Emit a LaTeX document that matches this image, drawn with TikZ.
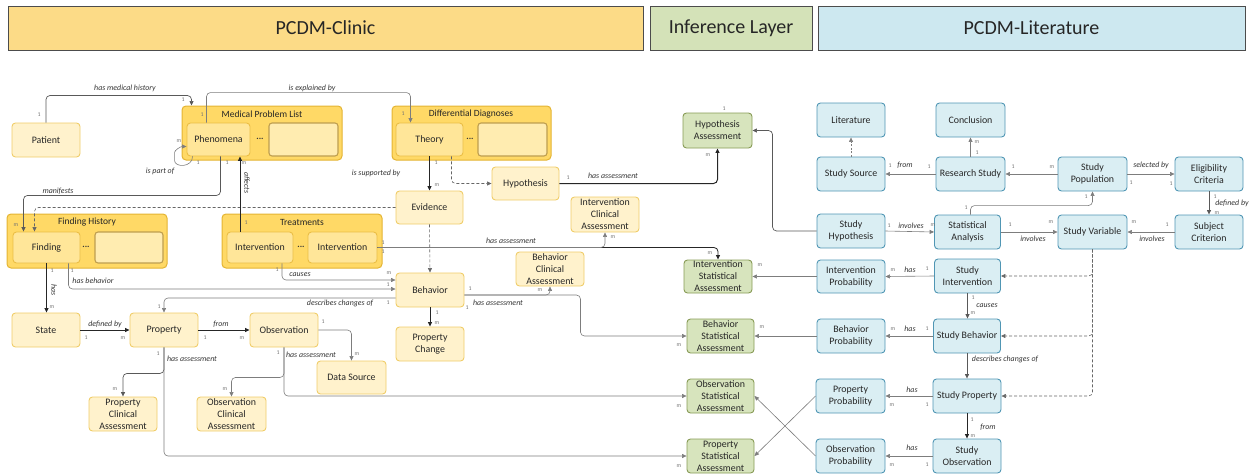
\documentclass[tikz,border=0pt]{standalone}
\usepackage{fontspec}
\setmainfont{Carlito}
\usetikzlibrary{arrows.meta,calc}

% palette
\definecolor{hclinic}{RGB}{252,219,135}
\definecolor{hinfer}{RGB}{212,226,184}
\definecolor{hlit}{RGB}{205,232,240}
\definecolor{yfill}{RGB}{255,242,204}
\definecolor{ybord}{RGB}{240,205,105}
\definecolor{grfill}{RGB}{255,217,102}
\definecolor{grbord}{RGB}{228,180,50}
\definecolor{ifill}{RGB}{255,230,153}
\definecolor{ibord}{RGB}{235,190,70}
\definecolor{efill}{RGB}{255,236,176}
\definecolor{ebord}{RGB}{190,158,80}
\definecolor{gfill}{RGB}{215,228,189}
\definecolor{gbord}{RGB}{135,155,85}
\definecolor{bfill}{RGB}{218,238,243}
\definecolor{bbord}{RGB}{80,150,180}
\definecolor{lgray}{RGB}{125,125,125}

\begin{document}
\begin{tikzpicture}[x=1pt,y=-1pt,
  box/.style={rectangle, rounded corners=3.5pt, line width=0.9pt, align=center,
    inner sep=1pt, font=\fontsize{9.9}{11.9}\selectfont, text=black!85},
  sz/.style 2 args={minimum width=#1pt, minimum height=#2pt},
  ynode/.style={box, draw=ybord, fill=yfill},
  inode/.style={box, draw=ibord, fill=ifill},
  enode/.style={rectangle, rounded corners=3pt, draw=ebord, fill=efill, line width=1.1pt},
  gnode/.style={box, draw=gbord, fill=gfill},
  bnode/.style={box, draw=bbord, fill=bfill},
  grp/.style={rectangle, rounded corners=4pt, draw=grbord, fill=grfill, line width=1pt},
  gtitle/.style={font=\fontsize{9.5}{11}\selectfont, text=black!85, inner sep=0pt},
  dotsym/.style={font=\fontsize{9}{10}\bfseries, text=black!80, inner sep=0pt},
  head/.style={rectangle, draw=black!70, line width=0.8pt, font=\fontsize{20}{24}\selectfont, text=black!85},
  tip/.style={-{Triangle[length=4.5pt,width=4pt]}},
  conn/.style={draw=lgray, line width=0.6pt, rounded corners=4pt, tip},
  cdark/.style={draw=black!65, line width=0.7pt, rounded corners=4pt, tip},
  cblack/.style={draw=black!85, line width=0.8pt, rounded corners=4pt, tip},
  cdash/.style={draw=black!60, line width=0.6pt, dash pattern=on 3pt off 2pt, rounded corners=4pt, tip},
  cdot/.style={draw=lgray, line width=0.6pt, dash pattern=on 2pt off 1.5pt, tip},
  lbl/.style={font=\fontsize{7.9}{9}\selectfont\itshape, text=black!80, inner sep=0pt},
  mult/.style={font=\fontsize{5.8}{6}\selectfont, text=black!55, inner sep=0pt}]

\useasboundingbox (0,0) rectangle (1250,474);

% ---------- headers ----------
\node[head, fill=hclinic, sz={635}{44}] (hclin) at (325.5,28) {PCDM-Clinic};
\node[head, fill=hinfer, sz={162}{44}] (hinf) at (731,28) {Inference Layer};
\node[head, fill=hlit, sz={427}{44}] (hlitr) at (1031.5,28) {PCDM-Literature};

% ---------- clinic side ----------
\node[ynode, sz={68}{34}] (patient) at (46,140) {Patient};

\node[grp, sz={160}{54}] (mpl) at (262,133) {};
\node[gtitle] (mplt) at (262,114) {Medical Problem List};
\node[inode, sz={63}{33}] (phen) at (218.5,139.5) {Phenomena};
\node[dotsym] (mpldots) at (260,139) {...};
\node[enode, sz={69}{33}] (mplx) at (303.5,139.5) {};

\node[grp, sz={159}{54}] (dd) at (471.5,133) {};
\node[gtitle] (ddt) at (471,114) {Differential Diagnoses};
\node[inode, sz={67}{33}] (theory) at (429.5,139.5) {Theory};
\node[dotsym] (dddots) at (470,139) {...};
\node[enode, sz={69}{33}] (ddx) at (512.5,139.5) {};

\node[ynode, sz={67}{33}] (hyp) at (525.5,183.5) {Hypothesis};
\node[ynode, sz={67}{33}] (evid) at (429.5,207.5) {Evidence};
\node[ynode, sz={68}{35}] (ica) at (605,214.5) {Intervention\\Clinical\\Assessment};

\node[grp, sz={160}{54}] (fh) at (87,241) {};
\node[gtitle] (fht) at (87,222) {Finding History};
\node[inode, sz={67}{31}] (find) at (46.5,247.5) {Finding};
\node[dotsym] (fhdots) at (86,247) {...};
\node[enode, sz={68}{31}] (fhx) at (129,247.5) {};

\node[grp, sz={160}{54}] (trt) at (302,241) {};
\node[gtitle] (trtt) at (302,222) {Treatments};
\node[inode, sz={66}{31}] (int1) at (260,247.5) {Intervention};
\node[dotsym] (trtdots) at (301,247) {...};
\node[inode, sz={69}{31}] (int2) at (342.5,247.5) {Intervention};

\node[ynode, sz={68}{34}] (bca) at (550,269) {Behavior\\Clinical\\Assessment};
\node[ynode, sz={68}{34}] (beh) at (430,290) {Behavior};
\node[ynode, sz={68}{34}] (pchg) at (430,344) {Property\\Change};
\node[ynode, sz={68}{34}] (state) at (46,330) {State};
\node[ynode, sz={68}{34}] (prop) at (164,330) {Property};
\node[ynode, sz={68}{34}] (obs) at (284,330) {Observation};
\node[ynode, sz={69}{33}] (dsrc) at (351.5,377.5) {Data Source};
\node[ynode, sz={68}{34}] (pca) at (123,414) {Property\\Clinical\\Assessment};
\node[ynode, sz={69}{34}] (oca) at (231.5,414) {Observation\\Clinical\\Assessment};

% ---------- inference layer ----------
\node[gnode, sz={69}{35}] (ha) at (717.5,130.5) {Hypothesis\\Assessment};
\node[gnode, sz={68}{33}] (isa) at (718,276.5) {Intervention\\Statistical\\Assessment};
\node[gnode, sz={67}{34}] (bsa) at (720.5,336) {Behavior\\Statistical\\Assessment};
\node[gnode, sz={67}{34}] (osa) at (720.5,396) {Observation\\Statistical\\Assessment};
\node[gnode, sz={67}{34}] (psa) at (720.5,456) {Property\\Statistical\\Assessment};

% ---------- literature side ----------
\node[bnode, sz={68}{34}] (lit) at (851,120) {Literature};
\node[bnode, sz={68}{34}] (ssrc) at (851,174) {Study Source};
\node[bnode, sz={69}{34}] (concl) at (970.5,120) {Conclusion};
\node[bnode, sz={69}{34}] (rs) at (970.5,174) {Research Study};
\node[bnode, sz={69}{34}] (spop) at (1092.5,174) {Study\\Population};
\node[bnode, sz={68}{34}] (elig) at (1209,174) {Eligibility\\Criteria};
\node[bnode, sz={68}{34}] (subj) at (1209,232) {Subject\\Criterion};
\node[bnode, sz={68}{34}] (shyp) at (851,231) {Study\\Hypothesis};
\node[bnode, sz={66}{34}] (sa) at (967.5,232) {Statistical\\Analysis};
\node[bnode, sz={69}{34}] (sv) at (1092.5,232) {Study Variable};
\node[bnode, sz={68}{33}] (ip) at (851,276.5) {Intervention\\Probability};
\node[bnode, sz={66}{34}] (si) at (967.5,276) {Study\\Intervention};
\node[bnode, sz={68}{34}] (bp) at (851,336) {Behavior\\Probability};
\node[bnode, sz={67}{34}] (sb) at (967,336) {Study Behavior};
\node[bnode, sz={69}{34}] (pp) at (850.5,396) {Property\\Probability};
\node[bnode, sz={68}{34}] (sp) at (967,396) {Study Property};
\node[bnode, sz={69}{34}] (op) at (850.5,456) {Observation\\Probability};
\node[bnode, sz={68}{34}] (so) at (967,456) {Study\\Observation};

% ---------- clinic connectors ----------
\draw[cdark] (patient.north) |- ([shift={(10pt,10pt)}]mpl.north west) -- ([xshift=10pt]mpl.north west);
\draw[conn] ([xshift=-12pt]phen.north) -- ++(0,-30) -| ([xshift=-19pt]theory.north);
\draw[conn] ([xshift=6pt]phen.south west) to[out=-90,in=-90,looseness=1.6] ++(-18,0)
  to[out=90,in=180] ([yshift=-7pt]phen.west);
\draw[cdark] ([xshift=2pt]phen.south) -- ++(0,39) -| ([xshift=-23pt]find.north);
\draw[cdash] (evid.west) -| ([xshift=-12pt]find.north);
\coordinate (affS) at ([xshift=-20pt]int1.north);
\draw[cblack] (affS) -- (affS |- phen.south);
\draw[cblack] (theory.south) -- (evid.north);
\draw[cdash] ([xshift=22pt]theory.south) |- (hyp.west);
\draw[cblack, line width=1pt] (hyp.east) -| (ha.south);
\draw[cdark] (shyp.west) -- ++(-44,0) |- (ha.east);
\draw[conn] ([xshift=22pt]find.south) |- ([yshift=1pt]beh.west);
\draw[cblack] (find.south) -- (find.south |- state.north);
\draw[conn] ([xshift=22pt]int1.south) |- ([yshift=10pt]beh.west);
\draw[cblack] (int2.east) -| (isa.north);
\draw[conn] (int2.east) -| (ica.south);
\draw[cdash] (evid.south) -- (beh.north);
\draw[cblack] (beh.south) -- (pchg.north);
\draw[conn] ([yshift=-5pt]beh.east) -| (bca.south);
\draw[conn] ([yshift=-5pt]beh.east) -- ++(116,0) |- (bsa.west);
\draw[conn] ([yshift=-8pt]beh.west) -| (prop.north);
\draw[cblack] (state.east) -- (prop.west);
\draw[cblack] (prop.east) -- (obs.west);
\draw[conn] (obs.east) -| (dsrc.north);
\draw[conn] (obs.south) -- ++(0,30) -| (oca.north);
\draw[conn] (obs.south) |- (osa.west);
\draw[cdark] (prop.south) -- ++(0,26) -| (pca.north);
\draw[conn] (prop.south) |- (psa.west);

% ---------- literature connectors ----------
\draw[conn] (si.west) -- (ip.east);
\draw[conn] (ip.west) -- (isa.east);
\draw[conn] (sb.west) -- (bp.east);
\draw[conn] (bp.west) -- (bsa.east);
\draw[conn] (sp.west) -- (pp.east);
\draw[conn] (so.west) -- (op.east);
\draw[conn] (pp.west) -- (psa.east);
\draw[conn] (op.west) -- (osa.east);
\draw[cdark] (si.south) -- (si.south |- sb.north);
\draw[cdark] (sb.south) -- (sp.north);
\draw[cblack] (sp.south) -- (so.north);
\draw[cdash] (sv.south) |- (si.east);
\draw[cdash] (sv.south) |- (sb.east);
\draw[cdash] (sv.south) |- (sp.east);
\draw[conn] (shyp.east) -- (sa.west);
\draw[conn] (sa.east) -- (sv.west);
\draw[conn] (subj.west) -- (sv.east);
\draw[conn] ([xshift=3pt]sa.north) -- ++(0,-9) -| (spop.south);
\draw[conn] (rs.north) -- (concl.south);
\draw[cdot] (ssrc.north) -- (lit.south);
\draw[conn] (rs.west) -- (ssrc.east);
\draw[conn] (spop.west) -- (rs.east);
\draw[conn] (spop.east) -- (elig.west);
\draw[cdark] (elig.south) -- (subj.north);

% ---------- relation labels ----------
\foreach [count=\i] \p/\t in {
  {125,88}/has medical history, {312,88}/is explained by, {160,171}/is part of,
  {58,191}/manifests, {376,173}/is supported by, {613,176}/has assessment,
  {93,281}/has behavior, {300,275}/causes, {511,241}/has assessment,
  {498,303}/has assessment, {340,303}/describes changes of, {105,324}/defined by,
  {221,324}/from, {192,359}/has assessment, {311,355}/has assessment,
  {910,270}/has, {910,329}/has, {912,390}/has, {912,448}/has,
  {911,226}/involves, {1033,239}/involves, {1152,239}/involves,
  {987,306}/causes, {1005,359}/describes changes of, {988,427}/from,
  {905,165}/from, {1151,165}/selected by, {1232,203}/defined by}
  \node[lbl] (rel\i) at (\p) {\t};
\node[lbl, rotate=-90] (relaff) at (247,183) {affects};
\node[lbl, rotate=-90] (relhas) at (54,290) {has};

% ---------- multiplicities ----------
\foreach [count=\i] \p/\t in {
  {39,115}/1, {183,100}/1, {202,115}/1, {179,141}/m, {198,163}/1, {227,163}/1,
  {244,163}/m, {403,114}/1, {436,163}/1, {437,185}/m, {568,178}/1,
  {724,109}/1, {708,155}/m, {890,166}/1, {929,167}/1, {977,142}/m, {977,153}/1,
  {1013,167}/1, {1052,167}/m, {1131,183}/1, {1171,184}/1, {1086,197}/1,
  {966,208}/1, {1215,197}/1, {1217,213}/m,
  {16,225}/m, {246,223}/1, {52,271}/1, {72,271}/1, {277,270}/1, {52,307}/m,
  {159,307}/1, {86,338}/1, {123,338}/m, {205,338}/1, {242,338}/m, {323,322}/1,
  {158,354}/1, {278,353}/1, {115,389}/m, {225,389}/m, {357,354}/m,
  {383,243}/1, {383,252}/1, {389,273}/m, {388,285}/1, {388,303}/1,
  {470,289}/1, {467,308}/1, {437,313}/1, {437,323}/m, {540,290}/m,
  {613,237}/m, {710,253}/m, {760,265}/m, {762,327}/m, {679,345}/m,
  {679,406}/m, {679,466}/m,
  {893,270}/m, {927,269}/1, {893,329}/m, {927,329}/1, {892,405}/m, {927,405}/1,
  {892,465}/m, {927,465}/1, {889,226}/1, {933,225}/m, {1010,225}/1,
  {1051,222}/m, {1134,222}/m, {1167,225}/1, {973,298}/1, {973,313}/m,
  {972,420}/1, {973,436}/m}
  \node[mult] (mul\i) at (\p) {\t};

\end{tikzpicture}
\end{document}
